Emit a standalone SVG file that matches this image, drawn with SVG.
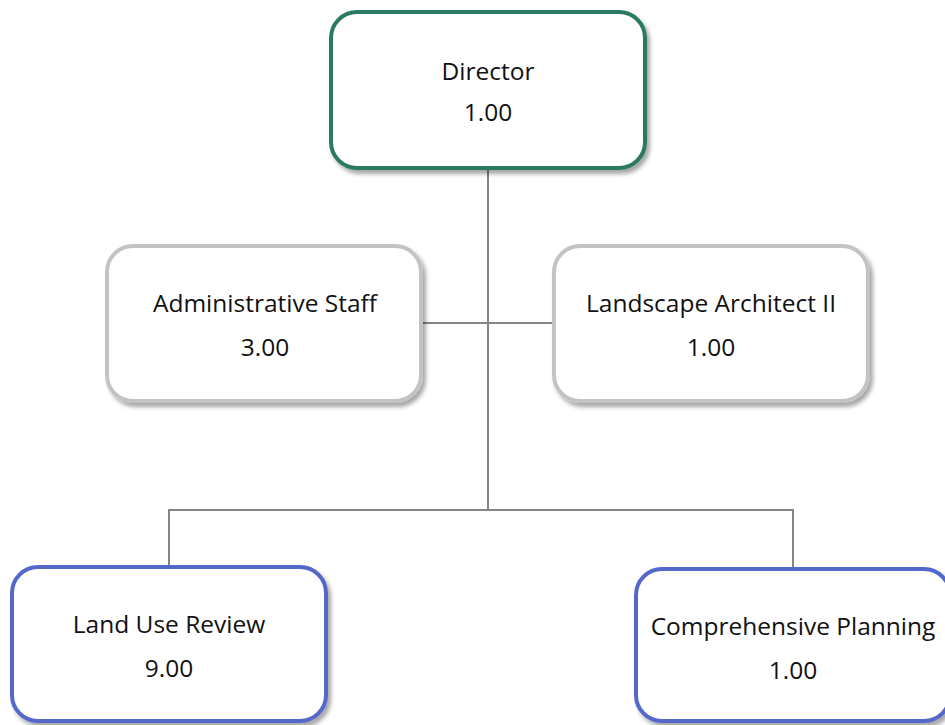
<svg xmlns="http://www.w3.org/2000/svg" width="945" height="725" viewBox="0 0 945 725">
<style>
.box{fill:#ffffff;stroke-width:4;filter:url(#sh)}
.green{stroke:#2b7a63}
.gray{stroke:#c3c3c3}
.blue{stroke:#5268c8}
.t{font-family:"Segoe UI","Open Sans","Noto Sans",sans-serif;font-size:24.5px;fill:#111;text-anchor:middle}
.c{fill:none;stroke:#858585;stroke-width:2}
</style>
<defs>
<filter id="sh" x="-10%" y="-10%" width="125%" height="130%">
<feDropShadow dx="3" dy="4" stdDeviation="2" flood-color="#000" flood-opacity="0.35"/>
</filter>
</defs>
<rect width="945" height="725" fill="#ffffff"/>
<g id="connectors">
<path class="c" d="M488 170 V510"/>
<path class="c" d="M423 323 H552"/>
<path class="c" d="M169 565 V510 H793 V567"/>
</g>
<g id="director">
<rect class="box green" x="331" y="12" width="314" height="156" rx="26"/>
<text class="t" x="488" y="80">Director</text>
<text class="t" x="488" y="121">1.00</text>
</g>
<g id="admin">
<rect class="box gray" x="107" y="246" width="314" height="155" rx="26"/>
<text class="t" x="265" y="312">Administrative Staff</text>
<text class="t" x="265" y="356">3.00</text>
</g>
<g id="landscape">
<rect class="box gray" x="554" y="246" width="314" height="155" rx="26"/>
<text class="t" x="711" y="312">Landscape Architect II</text>
<text class="t" x="711" y="356">1.00</text>
</g>
<g id="landuse">
<rect class="box blue" x="12" y="567" width="314" height="154" rx="26"/>
<text class="t" x="169" y="633">Land Use Review</text>
<text class="t" x="169" y="677">9.00</text>
</g>
<g id="comprehensive">
<rect class="box blue" x="636" y="569" width="314" height="152" rx="26"/>
<text class="t" x="793" y="635">Comprehensive Planning</text>
<text class="t" x="793" y="679">1.00</text>
</g>
</svg>
